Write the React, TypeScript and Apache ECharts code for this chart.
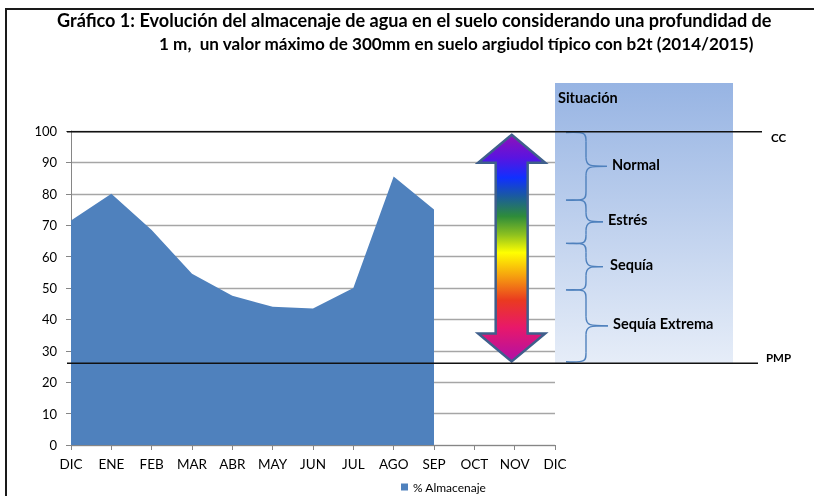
import React, { useEffect, useRef } from 'react';
import * as echarts from 'echarts';

const titleLines = [
  'Gráfico 1: Evolución del almacenaje de agua en el suelo considerando una profundidad de',
  '1 m,  un valor máximo de 300mm en suelo argiudol típico con b2t (2014/2015)',
];
const months = ['DIC', 'ENE', 'FEB', 'MAR', 'ABR', 'MAY', 'JUN', 'JUL', 'AGO', 'SEP', 'OCT', 'NOV', 'DIC'];
const storage = [71.5, 80, 68.5, 54.5, 47.5, 44, 43.5, 50, 85.5, 75, null, null, null];
const seriesName = '% Almacenaje';
const ccValue = 99.8;
const pmpValue = 26;
const ccLabel = 'CC';
const pmpLabel = 'PMP';
const panelTitle = 'Situación';
const levelBounds = [99.5, 78, 64.2, 49.4, 26.5];
const levelNames = ['Normal', 'Estrés', 'Sequía', 'Sequía Extrema'];
const arrowTopValue = 98.8;
const arrowBottomValue = 26.6;
const arrowCategoryIndex = 11;

const FONT = 'Lato, "Open Sans", sans-serif';

export default function App() {
  const ref = useRef<HTMLDivElement>(null);
  useEffect(() => {
    const chart = echarts.init(ref.current!, null, { renderer: 'svg' });
    chart.setOption({
      animation: false,
      textStyle: { fontFamily: FONT },
      title: [
        { text: titleLines[0], left: 57, top: 11, padding: 0, textStyle: { fontSize: 18.1, fontWeight: 'bold', color: '#000', fontFamily: FONT } },
        { text: titleLines[1], left: 159, top: 35, padding: 0, textStyle: { fontSize: 17.1, fontWeight: 'bold', color: '#000', fontFamily: FONT } },
      ],
      legend: {
        data: [seriesName],
        left: 401,
        top: 481,
        padding: 0,
        icon: 'rect',
        itemWidth: 7,
        itemHeight: 7,
        itemGap: 4,
        textStyle: { fontSize: 12, color: '#000', fontFamily: FONT },
      },
      grid: { left: 71, right: 259, top: 131, bottom: 51, containLabel: false },
      xAxis: {
        type: 'category',
        data: months,
        boundaryGap: false,
        axisLine: { lineStyle: { color: '#868686', width: 1 } },
        axisTick: { show: true, length: 5, interval: 0, lineStyle: { color: '#868686' } },
        axisLabel: { color: '#000', fontSize: 13.5, margin: 12, interval: 0, fontFamily: FONT },
        splitLine: { show: false },
      },
      yAxis: {
        type: 'value',
        min: 0,
        max: 100,
        interval: 10,
        axisLine: { show: true, lineStyle: { color: '#868686', width: 1 } },
        axisTick: { show: true, length: 5, lineStyle: { color: '#868686' } },
        axisLabel: { color: '#000', fontSize: 13, margin: 14, fontFamily: FONT },
        splitLine: { show: true, lineStyle: { color: '#a6a6a6', width: 1.3 } },
      },
      series: [
        {
          name: seriesName,
          type: 'line',
          data: storage,
          showSymbol: false,
          symbol: 'none',
          connectNulls: false,
          lineStyle: { width: 0, color: '#4f81bd' },
          itemStyle: { color: '#4f81bd' },
          areaStyle: { color: '#4f81bd', opacity: 1 },
        },
      ],
    });

    const py = (v: number) => chart.convertToPixel({ yAxisIndex: 0 }, v) as number;
    const px = (i: number) => chart.convertToPixel({ xAxisIndex: 0 }, i) as number;

    const xLeft = px(0);
    const xRight = px(months.length - 1);
    const yCC = py(ccValue);
    const yPMP = py(pmpValue);

    const elements: any[] = [];
    elements.push({
      type: 'rect', z: 0,
      shape: { x: 6, y: 9, width: 830, height: 500 },
      style: { fill: 'none', stroke: '#1a1a1a', lineWidth: 2 },
    });
    const panelX = xRight;
    const panelW = 178;
    const panelTop = 83;
    elements.push({
      type: 'rect', z: 1,
      shape: { x: panelX, y: panelTop, width: panelW, height: yPMP - panelTop },
      style: {
        fill: {
          type: 'linear', x: 0, y: 0, x2: 0, y2: 1,
          colorStops: [
            { offset: 0, color: '#97b4e3' },
            { offset: 1, color: '#e6edf8' },
          ],
        },
      },
    });
    elements.push({
      type: 'text', z: 5, x: panelX + 3, y: 97,
      style: { text: panelTitle, fontSize: 14.5, fontWeight: 'bold', fontFamily: FONT, fill: '#000', verticalAlign: 'middle' },
    });
    elements.push({
      type: 'line', z: 20,
      shape: { x1: xLeft - 4, y1: yCC, x2: 762, y2: yCC },
      style: { stroke: '#111', lineWidth: 1.5 },
    });
    elements.push({
      type: 'line', z: 20,
      shape: { x1: xLeft - 4, y1: yPMP, x2: 758, y2: yPMP },
      style: { stroke: '#111', lineWidth: 1.5 },
    });
    elements.push({
      type: 'text', z: 20, x: 771, y: yCC + 6,
      style: { text: ccLabel, fontSize: 11.5, fontWeight: 'bold', fontFamily: FONT, fill: '#000', verticalAlign: 'middle' },
    });
    elements.push({
      type: 'text', z: 20, x: 766, y: yPMP - 6,
      style: { text: pmpLabel, fontSize: 11.5, fontWeight: 'bold', fontFamily: FONT, fill: '#000', verticalAlign: 'middle' },
    });
    const xL = panelX + 11;
    const xV = panelX + 31;
    const tipX = [52, 48, 48, 53];
    const labelX = [57, 53, 55, 58];
    const r = 9;
    for (let i = 0; i < levelNames.length; i++) {
      const yt = py(levelBounds[i]);
      const yb = py(levelBounds[i + 1]);
      const ym = (yt + yb) / 2;
      const xT = panelX + tipX[i];
      const st = { stroke: '#4f81bd', lineWidth: 1.4, fill: 'none' };
      elements.push({ type: 'bezierCurve', z: 6, shape: { x1: xL, y1: yt, cpx1: xV, cpy1: yt - 1, cpx2: xV, cpy2: yt + 1, x2: xV, y2: yt + r }, style: st });
      elements.push({ type: 'line', z: 6, shape: { x1: xV, y1: yt + r, x2: xV, y2: ym - r }, style: st });
      elements.push({ type: 'bezierCurve', z: 6, shape: { x1: xV, y1: ym - r, cpx1: xV, cpy1: ym, cpx2: xV + 4, cpy2: ym, x2: xT, y2: ym }, style: st });
      elements.push({ type: 'bezierCurve', z: 6, shape: { x1: xT, y1: ym, cpx1: xV + 4, cpy1: ym, cpx2: xV, cpy2: ym, x2: xV, y2: ym + r }, style: st });
      elements.push({ type: 'line', z: 6, shape: { x1: xV, y1: ym + r, x2: xV, y2: yb - r }, style: st });
      elements.push({ type: 'bezierCurve', z: 6, shape: { x1: xV, y1: yb - r, cpx1: xV, cpy1: yb - 1, cpx2: xV, cpy2: yb + 1, x2: xL, y2: yb }, style: st });
      elements.push({
        type: 'text', z: 6, x: panelX + labelX[i], y: ym - 2,
        style: { text: levelNames[i], fontSize: 14.5, fontWeight: 'bold', fontFamily: FONT, fill: '#000', verticalAlign: 'middle' },
      });
    }
    const cx = px(arrowCategoryIndex) - 3;
    const yT = py(arrowTopValue);
    const yB = py(arrowBottomValue);
    const hw = 33.5;
    const sw = 16;
    const hh = 28;
    elements.push({
      type: 'polygon', z: 15,
      shape: {
        points: [
          [cx, yT], [cx + hw, yT + hh], [cx + sw, yT + hh], [cx + sw, yB - hh], [cx + hw, yB - hh],
          [cx, yB], [cx - hw, yB - hh], [cx - sw, yB - hh], [cx - sw, yT + hh], [cx - hw, yT + hh],
        ],
      },
      style: {
        fill: {
          type: 'linear', x: 0, y: 0, x2: 0, y2: 1,
          colorStops: [
            { offset: 0, color: '#9010b8' },
            { offset: 0.1, color: '#5a14e0' },
            { offset: 0.19, color: '#1030ff' },
            { offset: 0.27, color: '#1a5aa0' },
            { offset: 0.36, color: '#2e8c3a' },
            { offset: 0.44, color: '#8cc020' },
            { offset: 0.52, color: '#ffff00' },
            { offset: 0.63, color: '#f59a10' },
            { offset: 0.73, color: '#ea3a20' },
            { offset: 0.85, color: '#e8186a' },
            { offset: 1, color: '#b010a8' },
          ],
        },
        stroke: '#3f5f8c',
        lineWidth: 2.5,
      },
    });

    chart.setOption({ graphic: { elements } });
    return () => chart.dispose();
  }, []);
  return <div ref={ref} style={{ position: 'fixed', left: 0, top: 0, width: 814, height: 496 }} />;
}
